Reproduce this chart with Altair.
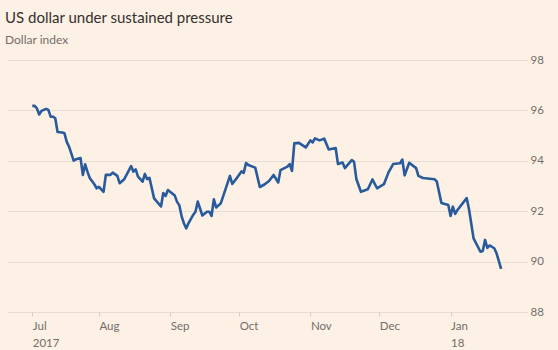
import altair as alt
import pandas as pd

# ---- data ----
dates = [
    "2017-07-03", "2017-07-04", "2017-07-05", "2017-07-06", "2017-07-07", "2017-07-08",
    "2017-07-09", "2017-07-10", "2017-07-11", "2017-07-12", "2017-07-13", "2017-07-14",
    "2017-07-16", "2017-07-17", "2017-07-18", "2017-07-19", "2017-07-21", "2017-07-22",
    "2017-07-24", "2017-07-25", "2017-07-26", "2017-07-27", "2017-07-28", "2017-07-30",
    "2017-07-31", "2017-08-01", "2017-08-03", "2017-08-04", "2017-08-06", "2017-08-07",
    "2017-08-09", "2017-08-10", "2017-08-12", "2017-08-13", "2017-08-15", "2017-08-16",
    "2017-08-17", "2017-08-18", "2017-08-20", "2017-08-21", "2017-08-22", "2017-08-23",
    "2017-08-25", "2017-08-28", "2017-08-29", "2017-08-30", "2017-08-31", "2017-09-03",
    "2017-09-04", "2017-09-05", "2017-09-06", "2017-09-07", "2017-09-08", "2017-09-09",
    "2017-09-11", "2017-09-12", "2017-09-13", "2017-09-15", "2017-09-17", "2017-09-18",
    "2017-09-19", "2017-09-20", "2017-09-21", "2017-09-23", "2017-09-24", "2017-09-27",
    "2017-09-28", "2017-09-30", "2017-10-02", "2017-10-03", "2017-10-04", "2017-10-05",
    "2017-10-08", "2017-10-10", "2017-10-12", "2017-10-14", "2017-10-16", "2017-10-18",
    "2017-10-19", "2017-10-22", "2017-10-23", "2017-10-24", "2017-10-25", "2017-10-27",
    "2017-10-30", "2017-11-01", "2017-11-02", "2017-11-03", "2017-11-05", "2017-11-07",
    "2017-11-09", "2017-11-12", "2017-11-13", "2017-11-15", "2017-11-16", "2017-11-19",
    "2017-11-20", "2017-11-21", "2017-11-23", "2017-11-26", "2017-11-28", "2017-11-30",
    "2017-12-03", "2017-12-05", "2017-12-07", "2017-12-10", "2017-12-11", "2017-12-12",
    "2017-12-14", "2017-12-17", "2017-12-18", "2017-12-20", "2017-12-25", "2017-12-26",
    "2017-12-28", "2017-12-31", "2018-01-01", "2018-01-02", "2018-01-03", "2018-01-04",
    "2018-01-08", "2018-01-09", "2018-01-11", "2018-01-14", "2018-01-15", "2018-01-16",
    "2018-01-17", "2018-01-18", "2018-01-20", "2018-01-21", "2018-01-23",
]
values = [
    96.18, 96.18, 96.08, 95.84, 95.98, 96.02,
    96.06, 96.02, 95.75, 95.75, 95.69, 95.14,
    95.12, 95.09, 94.75, 94.56, 94.01, 94.06,
    94.11, 93.44, 93.86, 93.57, 93.32, 93.07,
    92.91, 92.97, 92.77, 93.44, 93.44, 93.53,
    93.40, 93.11, 93.27, 93.44, 93.79, 93.57,
    93.66, 93.37, 93.17, 93.48, 93.27, 93.32,
    92.51, 92.19, 92.72, 92.60, 92.84, 92.62,
    92.37, 92.23, 91.79, 91.51, 91.32, 91.53,
    91.85, 91.98, 92.38, 91.83, 91.98, 91.98,
    91.81, 92.47, 92.15, 92.31, 92.58, 93.40,
    93.08, 93.32, 93.58, 93.52, 93.91, 93.83,
    93.73, 92.96, 93.06, 93.20, 93.44, 93.14,
    93.63, 93.77, 93.87, 93.60, 94.69, 94.71,
    94.53, 94.81, 94.73, 94.89, 94.81, 94.88,
    94.45, 94.51, 93.87, 93.93, 93.71, 94.03,
    93.96, 93.28, 92.77, 92.87, 93.26, 92.91,
    93.07, 93.54, 93.87, 93.90, 94.05, 93.42,
    93.92, 93.71, 93.40, 93.32, 93.27, 93.18,
    92.33, 92.25, 91.81, 92.18, 91.89, 92.05,
    92.52, 92.09, 90.92, 90.39, 90.42, 90.86,
    90.54, 90.64, 90.53, 90.33, 89.71,
]

y_ticks = [88, 90, 92, 94, 96, 98]
x_tick_dates = ["2017-07-03", "2017-08-01", "2017-09-01", "2017-10-01",
                "2017-11-01", "2017-12-01", "2018-01-01"]
x_tick_labels = [["Jul", "2017"], ["Aug"], ["Sep"], ["Oct"], ["Nov"], ["Dec"], ["Jan", "18"]]

df = pd.DataFrame({"date": dates, "value": values})

# label expression built from the tick lists
expr = "''"
for d, lab in reversed(list(zip(x_tick_dates, x_tick_labels))):
    arr = "[" + ",".join("'" + s + "'" for s in lab) + "]"
    expr = f"(utcFormat(datum.value, '%Y-%m') == '{d[:7]}' ? {arr} : {expr})"

def to_dt(s):
    y, m, dd = s[:10].split("-")
    return alt.DateTime(year=int(y), month=int(m), date=int(dd), utc=True)

FONT = "Lato"
LABEL = "#736d68"

chart = (
    alt.Chart(df)
    .mark_line(color="#285a9c", strokeWidth=2.6, strokeJoin="round")
    .encode(
        x=alt.X(
            "date:T",
            scale=alt.Scale(type="utc", domain=[
                alt.DateTime(year=2017, month=6, date=22, utc=True),
                alt.DateTime(year=2018, month=2, date=3, hours=6, utc=True),
            ]),
            axis=alt.Axis(
                title=None,
                values=[to_dt(d) for d in x_tick_dates],
                labelExpr=expr,
                labelAlign="left",
                labelBaseline="top",
                labelPadding=4,
                labelLineHeight=17,
                labelFont=FONT,
                labelFontSize=11.5,
                labelColor=LABEL,
                labelFlush=False,
                labelOverlap=False,
                domain=False,
                grid=False,
                ticks=True,
                tickSize=4,
                tickColor="#d8ccc1",
                tickWidth=1,
            ),
        ),
        y=alt.Y(
            "value:Q",
            scale=alt.Scale(domain=[88, 98], nice=False, zero=False),
            axis=alt.Axis(
                title=None,
                orient="right",
                values=y_ticks,
                labelAlign="left",
                labelBaseline="middle",
                labelPadding=3,
                labelFont=FONT,
                labelFontSize=11.5,
                labelColor=LABEL,
                domain=False,
                ticks=False,
                grid=True,
                gridColor="#e8ddd2",
                gridWidth=1,
            ),
        ),
    )
    .properties(
        width=520,
        height=252,
        autosize=alt.AutoSizeParams(type="none"),
        padding={"left": 7, "top": 60, "right": 31, "bottom": 38},
        background="#fdf1e6",
        title=alt.TitleParams(
            text="US dollar under sustained pressure",
            subtitle="Dollar index",
            anchor="start",
            frame="group",
            font=FONT,
            fontSize=15,
            fontWeight="normal",
            color="#33302e",
            subtitleFont=FONT,
            subtitleFontSize=12,
            subtitleColor="#736d68",
            subtitlePadding=9,
            offset=8,
            dx=-2,
        ),
    )
    .configure_view(stroke=None)
)

chart.save("out.html", embed_options={"renderer": "svg", "actions": False})
